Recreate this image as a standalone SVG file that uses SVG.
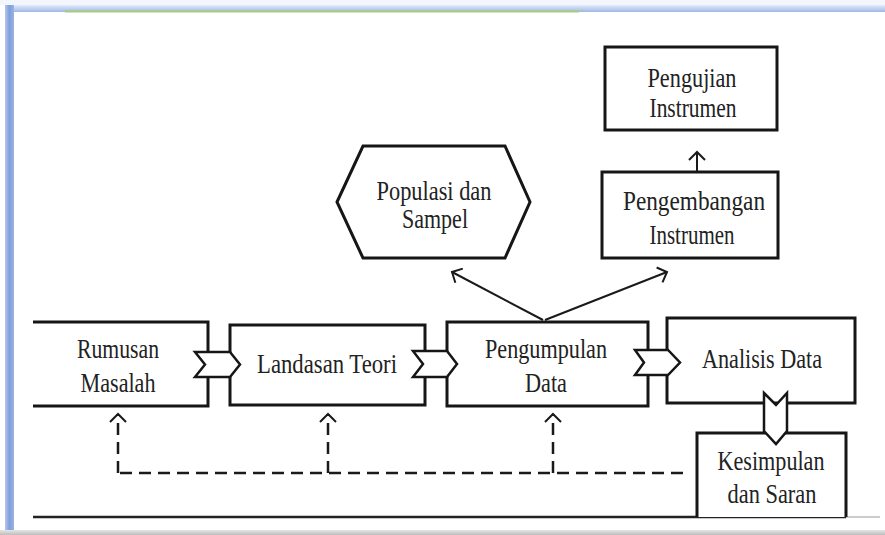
<svg xmlns="http://www.w3.org/2000/svg" width="885" height="535" viewBox="0 0 885 535">
<defs>
<linearGradient id="topbar" x1="0" y1="0" x2="0" y2="1"><stop offset="0" stop-color="#e4ecfa"/><stop offset="1" stop-color="#9fb7e6"/></linearGradient>
<linearGradient id="leftbar" x1="0" y1="0" x2="1" y2="0"><stop offset="0" stop-color="#b3c6ee"/><stop offset="0.5" stop-color="#7f9fdb"/><stop offset="1" stop-color="#9ab3e6"/></linearGradient>
<linearGradient id="botbar" x1="0" y1="0" x2="0" y2="1"><stop offset="0" stop-color="#e6e6e6"/><stop offset="1" stop-color="#bdbdbd"/></linearGradient>
<marker id="open" viewBox="0 0 20 20" refX="10" refY="10" markerWidth="20" markerHeight="20" markerUnits="userSpaceOnUse" orient="auto">
<path d="M2,2 L10,10 L2,18" fill="none" stroke="#1a1a1a" stroke-width="2"/>
</marker>
</defs>
<style>
.box{fill:#fff;stroke:#161616;stroke-width:3}
.chev{fill:#fff;stroke:#161616;stroke-width:2.5;stroke-linejoin:miter}
.edge{fill:none;stroke:#1a1a1a;stroke-width:2}
.dash{fill:none;stroke:#1a1a1a;stroke-width:2.5;stroke-dasharray:12 7}
text{font-family:"Liberation Serif","Times New Roman",serif;font-size:27px;fill:#222;text-anchor:middle}
</style>
<rect x="0" y="0" width="885" height="535" fill="#ffffff"/>
<rect x="0" y="0" width="885" height="5" fill="#f3f6fc"/>
<rect x="5" y="5" width="880" height="7" fill="url(#topbar)"/>
<rect x="5" y="5" width="9" height="525" fill="url(#leftbar)"/>
<rect x="65" y="10.5" width="514" height="2" fill="#a4cf78"/>
<rect x="0" y="530" width="885" height="5" fill="url(#botbar)"/>
<line x1="33" y1="517" x2="846" y2="517" stroke="#222" stroke-width="2.5"/>
<line x1="846" y1="517" x2="880" y2="517" stroke="#bbb" stroke-width="1.5"/>

<g id="connectors">
<path class="dash" d="M683,473 H118"/>
<path class="dash" d="M118,473 V414" marker-end="url(#open)"/>
<path class="dash" d="M328,473 V414" marker-end="url(#open)"/>
<path class="dash" d="M553,473 V414" marker-end="url(#open)"/>
<path class="edge" d="M543,320 L452,272" marker-end="url(#open)"/>
<path class="edge" d="M545,320 L667,272" marker-end="url(#open)"/>
<path class="edge" d="M697,172 L697,152" marker-end="url(#open)"/>
</g>

<g id="rumusan">
<path class="box" d="M33,322 H208 V406 H33"/>
<text x="118" y="358" textLength="82" lengthAdjust="spacingAndGlyphs">Rumusan</text>
<text x="118" y="392" textLength="75" lengthAdjust="spacingAndGlyphs">Masalah</text>
</g>
<g id="landasan">
<rect class="box" x="230" y="325" width="195" height="80"/>
<text x="327" y="373" textLength="140" lengthAdjust="spacingAndGlyphs">Landasan Teori</text>
</g>
<g id="pengumpulan">
<rect class="box" x="447" y="322" width="201" height="84"/>
<text x="546" y="358" textLength="122" lengthAdjust="spacingAndGlyphs">Pengumpulan</text>
<text x="546" y="392" textLength="42" lengthAdjust="spacingAndGlyphs">Data</text>
</g>
<g id="analisis">
<rect class="box" x="667" y="318" width="188" height="85"/>
<text x="762" y="368" textLength="120" lengthAdjust="spacingAndGlyphs">Analisis Data</text>
</g>
<g id="kesimpulan">
<path class="box" d="M697,517 V433 H846 V517"/>
<text x="771" y="470" textLength="107" lengthAdjust="spacingAndGlyphs">Kesimpulan</text>
<text x="772" y="503" textLength="89" lengthAdjust="spacingAndGlyphs">dan Saran</text>
</g>
<g id="populasi">
<polygon class="box" points="337,202 363,146 505,146 530,202 505,258 363,258"/>
<text x="434" y="200" textLength="115" lengthAdjust="spacingAndGlyphs">Populasi dan</text>
<text x="435" y="228" textLength="66" lengthAdjust="spacingAndGlyphs">Sampel</text>
</g>
<g id="pengembangan">
<rect class="box" x="602" y="172" width="176" height="86"/>
<text x="694" y="210" textLength="142" lengthAdjust="spacingAndGlyphs">Pengembangan</text>
<text x="692" y="244" textLength="85" lengthAdjust="spacingAndGlyphs">Instrumen</text>
</g>
<g id="pengujian">
<rect class="box" x="605" y="47" width="172" height="83"/>
<text x="692" y="87" textLength="89" lengthAdjust="spacingAndGlyphs">Pengujian</text>
<text x="693" y="117" textLength="87" lengthAdjust="spacingAndGlyphs">Instrumen</text>
</g>

<g id="flow-arrows">
<polygon class="chev" points="195,352 230,352 240,364.5 230,377 195,377 205,364.5"/>
<polygon class="chev" points="413,351 447,351 457,364 447,377 413,377 423,364"/>
<polygon class="chev" points="635,350 668,350 680,362.5 668,375 635,375 644,362.5"/>
<polygon class="chev" points="764,393 776,405 787,393 787,431 776,444 764,431"/>
</g>
</svg>
